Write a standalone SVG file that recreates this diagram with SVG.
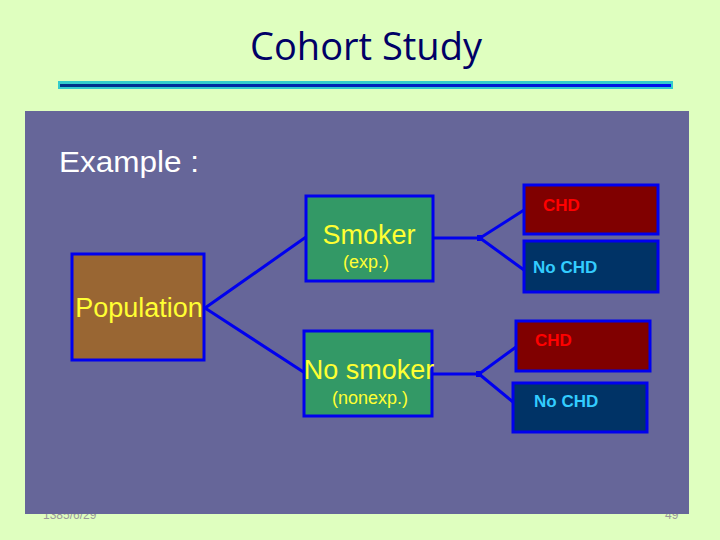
<svg xmlns="http://www.w3.org/2000/svg" width="720" height="540" viewBox="0 0 720 540">
<defs>
<linearGradient id="rule" x1="0" y1="0" x2="1" y2="0">
<stop offset="0" stop-color="#003388"/>
<stop offset="1" stop-color="#0011EE"/>
</linearGradient>
</defs>
<style>
.box{stroke:#0000EE;stroke-width:3}
.conn{stroke:#0000EE;stroke-width:3;fill:none}
.lbl{font-family:"Liberation Sans",Arial,sans-serif;fill:#FFFF33}
.big{font-size:27px}
.small{font-size:18px}
.out{font-family:"Liberation Sans",Arial,sans-serif;font-size:17px;font-weight:bold}
.foot{font-family:"Liberation Sans",Arial,sans-serif;font-size:12px;fill:#9a9a9a}
</style>
<rect x="0" y="0" width="720" height="540" fill="#DFFFBF"/>
<text x="366" y="60" text-anchor="middle" font-family="'Open Sans','Liberation Sans',sans-serif" font-size="38" fill="#000066" textLength="232" lengthAdjust="spacingAndGlyphs">Cohort Study</text>
<rect x="58" y="81" width="615" height="8" fill="#33CCCC"/>
<rect x="60" y="84" width="611" height="3" fill="url(#rule)"/>
<text class="foot" x="43" y="519">1385/6/29</text>
<text class="foot" x="665" y="519">49</text>
<rect id="panel" x="25" y="111" width="664" height="403" fill="#666699"/>
<text x="59" y="172" font-family="'Liberation Sans',Arial,sans-serif" font-size="29" fill="#FFFFFF" textLength="140" lengthAdjust="spacingAndGlyphs">Example :</text>
<g id="connectors">
<polyline class="conn" points="306,237 205,308 305,373"/>
<line class="conn" x1="433" y1="238" x2="480" y2="238"/>
<polyline class="conn" points="524,210 480,238 524,270"/>
<rect x="477" y="235" width="6" height="6" fill="#0000EE"/>
<line class="conn" x1="432" y1="374" x2="479" y2="374"/>
<polyline class="conn" points="516,347 479,374 513,402"/>
<rect x="476" y="371" width="6" height="6" fill="#0000EE"/>
</g>
<g id="population">
<rect class="box" x="72" y="254" width="132" height="106" fill="#996633"/>
<text class="lbl big" x="139" y="317" text-anchor="middle">Population</text>
</g>
<g id="smoker">
<rect class="box" x="306" y="196" width="127" height="85" fill="#339966"/>
<text class="lbl big" x="369" y="244" text-anchor="middle">Smoker</text>
<text class="lbl small" x="366" y="268" text-anchor="middle">(exp.)</text>
</g>
<g id="nosmoker">
<rect class="box" x="304" y="331" width="128" height="85" fill="#339966"/>
<text class="lbl big" x="369" y="379" text-anchor="middle">No smoker</text>
<text class="lbl small" x="370" y="404" text-anchor="middle">(nonexp.)</text>
</g>
<g id="chd1">
<rect class="box" x="524" y="185" width="134" height="49" fill="#800000"/>
<text class="out" x="543" y="211" fill="#FF0000">CHD</text>
</g>
<g id="nochd1">
<rect class="box" x="524" y="241" width="134" height="51" fill="#003366"/>
<text class="out" x="533" y="273" fill="#33CCFF">No CHD</text>
</g>
<g id="chd2">
<rect class="box" x="516" y="321" width="134" height="50" fill="#800000"/>
<text class="out" x="535" y="346" fill="#FF0000">CHD</text>
</g>
<g id="nochd2">
<rect class="box" x="513" y="383" width="134" height="49" fill="#003366"/>
<text class="out" x="534" y="407" fill="#33CCFF">No CHD</text>
</g>
</svg>
